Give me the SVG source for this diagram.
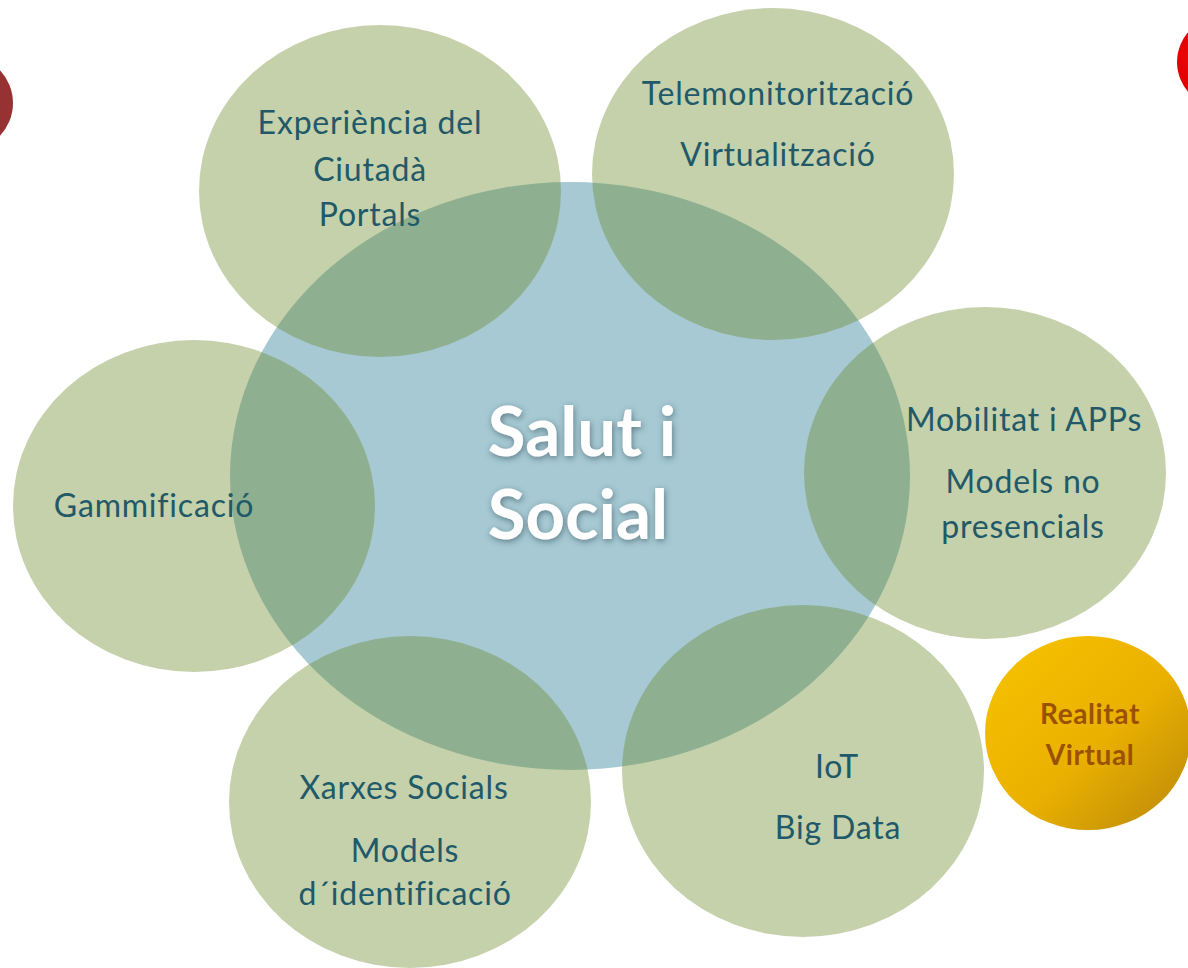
<svg xmlns="http://www.w3.org/2000/svg" width="1188" height="968" viewBox="0 0 1188 968">
<defs>
<style>
.petal{fill:rgb(108,140,45);fill-opacity:0.4}
.lbl{font-family:Lato,"Open Sans","Liberation Sans",sans-serif;font-size:32px;letter-spacing:0.8px;fill:#215968;text-anchor:middle;font-variant-ligatures:none}
.big{font-family:Lato,"Open Sans","Liberation Sans",sans-serif;font-size:69px;font-weight:bold;fill:#ffffff;text-anchor:middle}
.vr{font-family:Lato,"Open Sans","Liberation Sans",sans-serif;font-size:28px;letter-spacing:0.6px;font-weight:bold;fill:#9A5200;text-anchor:middle}
</style>
<linearGradient id="gold" x1="0" y1="0" x2="1" y2="1">
<stop offset="0" stop-color="#F8C400"/>
<stop offset="0.55" stop-color="#EAB000"/>
<stop offset="1" stop-color="#B8860B"/>
</linearGradient>
<radialGradient id="red" cx="0.45" cy="0.45" r="0.6">
<stop offset="0" stop-color="#FF1A1A"/>
<stop offset="0.8" stop-color="#E00000"/>
<stop offset="1" stop-color="#A00000"/>
</radialGradient>
<filter id="glow" x="-20%" y="-20%" width="140%" height="140%">
<feDropShadow dx="1" dy="2" stdDeviation="3" flood-color="#2a4a55" flood-opacity="0.6"/>
</filter>
</defs>
<rect width="1188" height="968" fill="#ffffff"/>
<g id="deco">
<ellipse cx="-35" cy="103" rx="48" ry="48" fill="#963232"/>
<ellipse cx="1226" cy="62" rx="49" ry="47" fill="url(#red)"/>
</g>
<g id="connectors"></g>
<g id="center">
<ellipse cx="570" cy="476" rx="340" ry="294" fill="#A6C9D3"/>
</g>
<g id="experiencia">
<ellipse class="petal" cx="380" cy="191" rx="181" ry="166"/>
</g>
<g id="telemonitoritzacio">
<ellipse class="petal" cx="773" cy="174" rx="181" ry="166"/>
</g>
<g id="mobilitat">
<ellipse class="petal" cx="985" cy="473" rx="181" ry="166"/>
</g>
<g id="iot">
<ellipse class="petal" cx="803" cy="771" rx="181" ry="166"/>
</g>
<g id="xarxes">
<ellipse class="petal" cx="410" cy="802" rx="181" ry="166"/>
</g>
<g id="gammificacio">
<ellipse class="petal" cx="194" cy="506" rx="181" ry="166"/>
</g>
<g id="realitat">
<ellipse cx="1088" cy="733" rx="103" ry="97" fill="url(#gold)"/>
<text class="vr" x="1090" y="724">Realitat</text>
<text class="vr" x="1090" y="765">Virtual</text>
</g>
<g id="labels">
<text class="lbl" x="370" y="134">Experiència del</text>
<text class="lbl" x="370" y="181">Ciutadà</text>
<text class="lbl" x="370" y="226">Portals</text>
<text class="lbl" x="778" y="105">Telemonitorització</text>
<text class="lbl" x="778" y="166">Virtualització</text>
<text class="lbl" x="1024" y="431">Mobilitat i APPs</text>
<text class="lbl" x="1023" y="493">Models no</text>
<text class="lbl" x="1023" y="538">presencials</text>
<text class="lbl" x="154" y="517">Gammificació</text>
<text class="lbl" x="404" y="799">Xarxes Socials</text>
<text class="lbl" x="405" y="862">Models</text>
<text class="lbl" x="405" y="905">d´identificació</text>
<text class="lbl" x="837" y="778">IoT</text>
<text class="lbl" x="838" y="839">Big Data</text>
</g>
<g id="title" filter="url(#glow)">
<text class="big" x="582" y="456">Salut i</text>
<text class="big" x="578" y="539">Social</text>
</g>
</svg>
